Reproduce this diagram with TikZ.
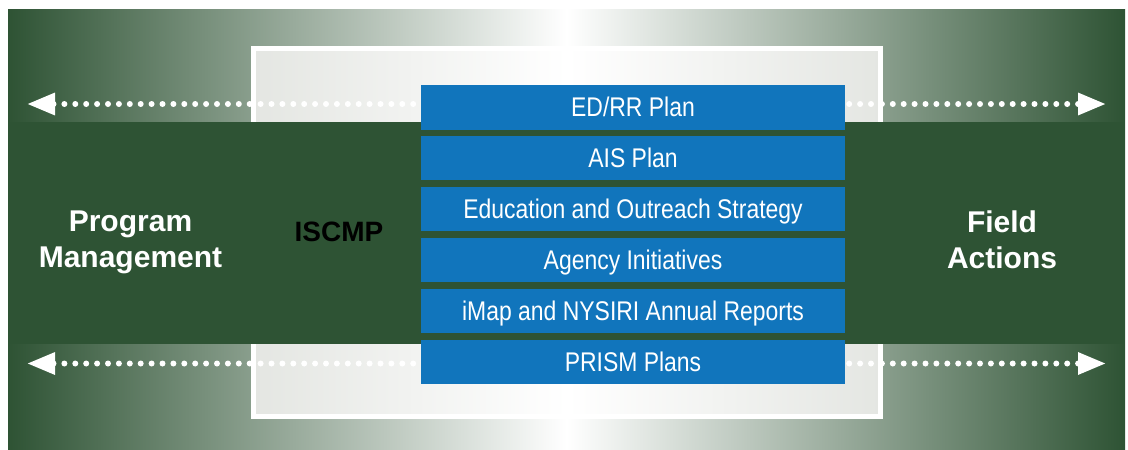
\documentclass[tikz,border=0pt]{standalone}
\usepackage{fontspec}
\setmainfont{Liberation Sans}
\newfontfamily\narrowfont[FakeStretch=0.85]{Liberation Sans}
\usetikzlibrary{
  arrows.meta,
  positioning,
}
\definecolor{iscgreen}{RGB}{46,83,52}
\definecolor{iscblue}{RGB}{17,117,188}
\definecolor{iscgrey}{RGB}{228,230,226}

\tikzstyle{plan} = [
  rectangle,
  fill=iscblue,
  text=white,
  minimum width=424,
  minimum height=44.5,
  inner sep=0pt,
  text height=19pt,
  text depth=0pt,
  font=\narrowfont\fontsize{27}{27}\selectfont,
]
\tikzstyle{side} = [
  align=center,
  text=white,
  font=\bfseries\fontsize{30}{36}\selectfont,
]
\tikzstyle{dots} = [
  {Triangle[length=28pt,width=21pt]}-{Triangle[length=28pt,width=21pt]},
  white,
  line width=6pt,
  line cap=round,
  dash pattern=on 0pt off 10.9pt,
]

\begin{document}
\begin{tikzpicture}[x=1pt,y=-1pt,node distance=6pt]
			\useasboundingbox (0,0) rectangle (1128,450);
			\shade[left color=iscgreen,right color=iscgreen,middle color=white] (8,9) rectangle (1125,450);
			\shadedraw[left color=iscgrey,right color=iscgrey,middle color=white,draw=white,line width=5pt] (253.5,48.5) rectangle (880.5,416.5);
			\fill[iscgreen] (8,122) rectangle (1125,344);

			\coordinate (tl) at (27,104);
			\coordinate (tr) at (1106,104);
			\coordinate (bl) at (27,363.5);
			\coordinate (br) at (1106,363.5);
			\draw[dots] (tl) -- (tr);
			\draw[dots] (bl) -- (br);

			\node[plan] (p1) at (633,107.3) {ED/RR Plan};
			\node[plan] (p2) [below=of p1] {AIS Plan};
			\node[plan] (p3) [below=of p2] {Education and Outreach Strategy};
			\node[plan] (p4) [below=of p3] {Agency Initiatives};
			\node[plan] (p5) [below=of p4] {iMap and NYSIRI Annual Reports};
			\node[plan] (p6) [below=of p5] {PRISM Plans};

			\node[side] (pm) at (130.5,242) {Program\\Management};
			\node[text=black,font=\bfseries\fontsize{28}{28}\selectfont] (iscmp) at (339,232) {ISCMP};
			\node[side] (fa) at (1002,240) {Field\\Actions};
		\end{tikzpicture}
\end{document}
